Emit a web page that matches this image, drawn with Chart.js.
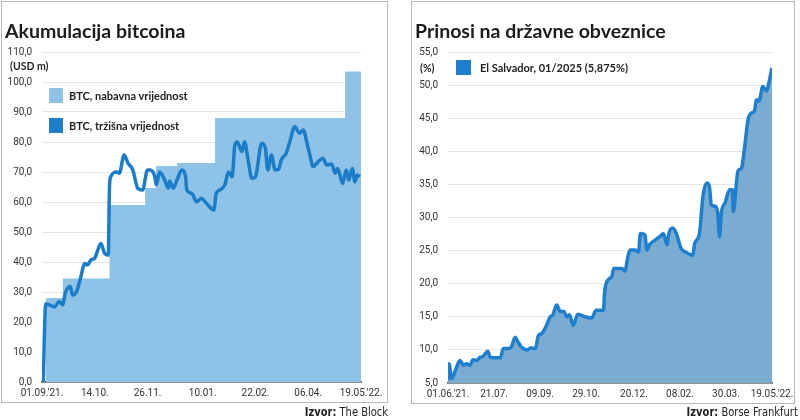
<!DOCTYPE html>
<html>
<head>
<meta charset="utf-8">
<script src="https://cdn.jsdelivr.net/npm/chart.js@4"></script>
<style>
  body { margin: 0; background: #fff; }
  #wrap { position: relative; width: 800px; height: 420px; background: #fff; overflow: hidden; }
  .panel { position: absolute; box-sizing: border-box; border: 1px solid #b8b8b8; }
  .title { position: absolute; font: bold 19.5px Lato, sans-serif; color: #1b1b1b; line-height: 20px; white-space: nowrap; }
  .unit { position: absolute; font: bold 10.5px Lato, sans-serif; color: #222; line-height: 11px; }
  .leg { position: absolute; font: bold 11px Lato, sans-serif; color: #222; line-height: 15px; white-space: nowrap; }
  .leg span { display: inline-block; width: 14px; height: 15px; vertical-align: top; margin-right: 6px; }
  .src { position: absolute; font: 13px "Liberation Sans Narrow", "DejaVu Sans Condensed", sans-serif; color: #222;
         white-space: nowrap; transform: scaleX(0.85); transform-origin: right top; }
  canvas { position: absolute; top: 0; }
</style>
</head>
<body>
<div id="wrap">
  <div class="panel" style="left:1px;top:1px;width:387px;height:402px"></div>
  <div class="panel" style="left:411px;top:1px;width:384px;height:403px"></div>

  <canvas id="js--chart-btc" width="390" height="410" style="left:0"></canvas>
  <canvas id="js--chart-bonds" width="390" height="410" style="left:410px"></canvas>

  <div class="title" style="left:5px;top:21px">Akumulacija bitcoina</div>
  <div class="title" style="left:415px;top:21px">Prinosi na državne obveznice</div>
  <div class="unit" style="left:10px;top:61px">(USD m)</div>
  <div class="unit" style="left:420px;top:63px">(%)</div>

  <div class="leg" style="left:49px;top:88px"><span style="background:#8ec3e7"></span>BTC, nabavna vrijednost</div>
  <div class="leg" style="left:49px;top:118px"><span style="background:#1b7cc8"></span>BTC, tržišna vrijednost</div>
  <div class="leg" style="left:456px;top:60px"><span style="background:#1e7fcf;width:15px;margin-right:9px"></span>El Salvador, 01/2025 (5,875%)</div>

  <div class="src" style="right:412px;top:404px"><b>Izvor:</b> The Block</div>
  <div class="src" style="right:2px;top:404px"><b>Izvor:</b> Borse Frankfurt</div>
</div>

<script>
// left chart: days since 01.09.'21
const btcTickDays = [0, 43, 86, 131, 174, 217, 260];
const btcTickLabels = ["01.09.'21.", "14.10.", "26.11.", "10.01.", "22.02.", "06.04.", "19.05.'22."];

const costDays = [3, 17, 55, 84, 93, 110, 141, 247, 260];
const costValues = [28, 34.5, 59, 64.7, 72, 73, 88, 103.5, 103.5];

const btcDays = [1, 3, 6, 10, 14, 17, 19, 23, 25, 28, 31, 35, 37, 40, 43, 45, 48, 51, 54, 55,
    56, 61, 63, 67, 70, 74, 78, 82, 86, 88, 92, 93, 96, 100, 103, 104, 107, 110, 114, 117,
    118, 122, 126, 130, 134, 140, 142, 145, 149, 152, 155, 157, 159, 163, 165, 168, 171, 174, 179, 182,
    184, 187, 190, 193, 195, 199, 202, 206, 210, 213, 216, 218, 221, 225, 229, 232, 236, 239, 241, 245,
    248, 250, 253, 255, 257, 259];
const btcValues = [0, 26, 25.7, 25, 26.8, 25.7, 29.6, 31.8, 29, 30, 34, 39.5, 39, 40.7, 41.3, 43.4, 46.2, 42.9, 42.3, 65,
    68.4, 70, 69.6, 75.7, 73, 70.7, 64.6, 64, 70.7, 70.7, 68.4, 65.7, 70, 67.3, 64.6, 67, 64.6, 67.3, 70.7, 68.4,
    64, 62.9, 60.1, 61.2, 59.6, 57.3, 62.9, 64, 65.7, 70, 68.4, 78.4, 80.1, 76.8, 80.1, 74, 67.9, 68.4, 79.6, 78,
    70.7, 75.7, 70.7, 71, 74, 76.2, 80.1, 85.1, 82.9, 84, 79.6, 76.2, 71.8, 73.4, 74.6, 72.3, 72.7, 69.6, 71.2, 66.2,
    70.7, 67.3, 71.2, 66.7, 69, 68.4];

// right chart: days since 01.06.'21
const bondTickDays = [0, 50, 100, 150, 202, 252, 302, 352];
const bondTickLabels = ["01.06.'21.", "21.07.", "09.09.", "29.10.", "20.12.", "08.02.", "30.03.", "19.05.'22."];

const bondDays = [0, 1, 4, 8, 13, 17, 20, 24, 27, 31, 35, 38, 43, 46, 51, 57, 60, 66, 69, 73,
    76, 80, 86, 90, 95, 98, 102, 107, 111, 114, 118, 122, 126, 129, 132, 136, 141, 149, 156, 161,
    169, 170, 174, 178, 180, 189, 192, 196, 198, 203, 207, 209, 214, 216, 219, 225, 230, 234, 238, 240,
    244, 248, 253, 258, 266, 268, 273, 277, 281, 284, 286, 290, 293, 295, 297, 301, 306, 309, 310, 313,
    315, 319, 322, 326, 330, 333, 335, 338, 342, 346, 349, 352];
const bondValues = [5.4, 7.9, 5.7, 6.9, 8.4, 7.7, 7.9, 7.7, 8.5, 8.4, 8.9, 9.0, 9.8, 8.9, 8.8, 8.8, 10.2, 10.2, 10.5, 11.9,
    11.2, 10.4, 10.0, 10.3, 10.2, 12.1, 12.5, 13.7, 15.0, 15.3, 16.8, 15.8, 15.8, 15.0, 15.3, 13.7, 15.4, 15.0, 14.8, 16.0,
    16.0, 18.5, 20.6, 21.1, 22.3, 22.3, 21.9, 24.4, 25.1, 25.1, 24.8, 27.6, 27.4, 25.1, 25.9, 26.6, 27.1, 27.6, 25.9, 27.6,
    28.4, 27.6, 25.4, 24.8, 24.3, 26.1, 27.4, 33.2, 35.2, 34.7, 31.9, 31.7, 30.7, 27.1, 30.7, 32.2, 34.2, 34.2, 30.9, 34.7,
    37.0, 37.5, 40.3, 44.8, 45.8, 46.1, 47.8, 47.6, 49.8, 49.1, 50.6, 52.6];

const tickFont = { family: 'Roboto', size: 10 };
const gridColor = '#e4e4e4';

function commaLabel(v) {
    return Number(v).toFixed(1).replace('.', ',');
}

function xAxis(max, tickDays, tickLabels, height) {
    return {
        type: 'linear',
        min: 0,
        max: max,
        grid: { display: false, drawTicks: false },
        border: { display: true, color: '#3c3c3c', width: 1.5 },
        afterBuildTicks: axis => { axis.ticks = tickDays.map(d => ({ value: d })); },
        afterFit: axis => { axis.height = height; },
        ticks: {
            autoSkip: false,
            maxRotation: 0,
            padding: 5,
            color: '#333',
            font: tickFont,
            callback: (value, index) => tickLabels[index]
        }
    };
}

function yAxis(min, max, step, width) {
    return {
        min: min,
        max: max,
        border: { display: false },
        grid: { color: gridColor, drawTicks: false, lineWidth: 1 },
        afterFit: axis => { axis.width = width; },
        ticks: {
            stepSize: step,
            padding: 10,
            color: '#333',
            font: tickFont,
            callback: commaLabel
        }
    };
}

new Chart(document.getElementById('js--chart-btc').getContext('2d'), {
    type: 'line',
    data: {
        datasets: [{
            label: 'BTC, tržišna vrijednost',
            data: btcDays.map((d, i) => ({ x: d, y: btcValues[i] })),
            borderColor: '#1b7cc8',
            borderWidth: 3.5,
            pointRadius: 0,
            fill: false,
            cubicInterpolationMode: 'monotone',
            order: 0
        }, {
            label: 'BTC, nabavna vrijednost',
            data: costDays.map((d, i) => ({ x: d, y: costValues[i] })),
            borderWidth: 0,
            borderColor: 'rgba(0,0,0,0)',
            backgroundColor: '#8ec3e7',
            pointRadius: 0,
            stepped: 'before',
            fill: 'origin',
            order: 1
        }]
    },
    options: {
        responsive: false,
        animation: false,
        layout: { padding: { left: 0, right: 29, top: 52, bottom: 0 } },
        plugins: { legend: { display: false }, tooltip: { enabled: false } },
        scales: {
            x: xAxis(260, btcTickDays, btcTickLabels, 28),
            y: yAxis(0, 110, 10, 42)
        }
    }
});

new Chart(document.getElementById('js--chart-bonds').getContext('2d'), {
    type: 'line',
    data: {
        datasets: [{
            label: 'El Salvador, 01/2025 (5,875%)',
            data: bondDays.map((d, i) => ({ x: d, y: bondValues[i] })),
            borderColor: '#1e7fcf',
            borderWidth: 3.5,
            backgroundColor: '#7aabd0',
            pointRadius: 0,
            fill: 'start',
            cubicInterpolationMode: 'monotone'
        }]
    },
    options: {
        responsive: false,
        animation: false,
        layout: { padding: { left: 0, right: 28, top: 52, bottom: 0 } },
        plugins: { legend: { display: false }, tooltip: { enabled: false } },
        scales: {
            x: xAxis(352, bondTickDays, bondTickLabels, 27),
            y: yAxis(5, 55, 5, 38)
        }
    }
});
</script>
</body>
</html>
